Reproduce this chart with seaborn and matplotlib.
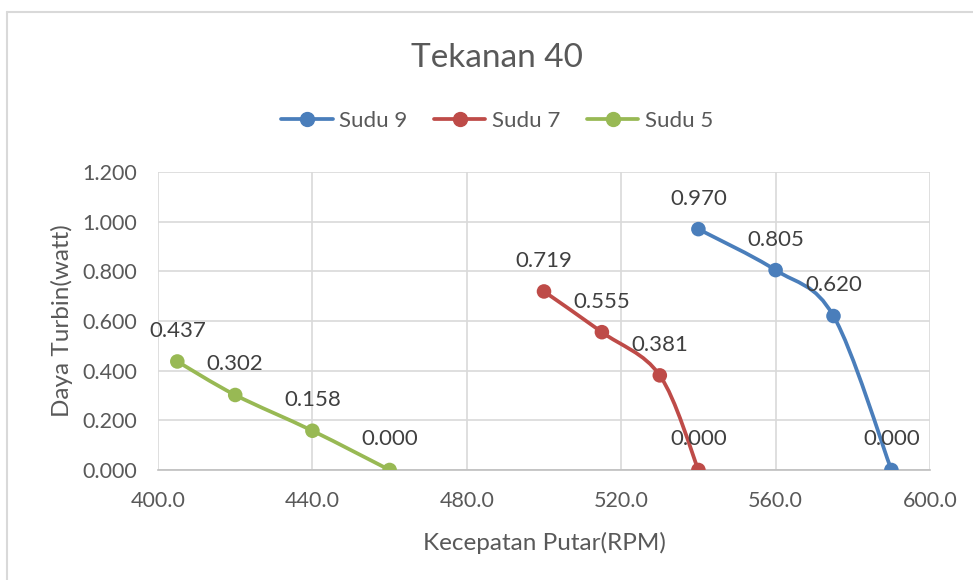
import numpy as np
import pandas as pd
import matplotlib
matplotlib.use('Agg')
import matplotlib.pyplot as plt
from matplotlib.path import Path
from matplotlib.patches import PathPatch
from matplotlib.lines import Line2D
import seaborn as sns

# data
series = ['Sudu 9', 'Sudu 7', 'Sudu 5']
rpm_9 = [540, 560, 575, 590]
daya_9 = [0.970, 0.805, 0.620, 0.000]
rpm_7 = [500, 515, 530, 540]
daya_7 = [0.719, 0.555, 0.381, 0.000]
rpm_5 = [405, 420, 440, 460]
daya_5 = [0.437, 0.302, 0.158, 0.000]
colors = ['#4A7EBB', '#BE4B48', '#98B954']

df = pd.concat([
    pd.DataFrame({'RPM': rpm_9, 'Daya': daya_9, 'Seri': 'Sudu 9'}),
    pd.DataFrame({'RPM': rpm_7, 'Daya': daya_7, 'Seri': 'Sudu 7'}),
    pd.DataFrame({'RPM': rpm_5, 'Daya': daya_5, 'Seri': 'Sudu 5'}),
])

sns.set_style('white')
plt.rcParams['font.family'] = ['Lato', 'DejaVu Sans']
grey = '#595959'

fig = plt.figure(figsize=(9.73, 5.8), dpi=100)
ax = fig.add_axes([0.1624, 0.1897, 0.7934, 0.5137])


def smooth_path(x, y):
    # Excel-like smoothed line: Catmull-Rom as cubic Bezier
    p = np.column_stack([x, y]).astype(float)
    ext = np.vstack([p[0], p, p[-1]])
    verts = [p[0]]
    codes = [Path.MOVETO]
    for i in range(len(p) - 1):
        p0, p1, p2, p3 = ext[i], ext[i + 1], ext[i + 2], ext[i + 3]
        c1 = p1 + (p2 - p0) / 6.0
        c2 = p2 - (p3 - p1) / 6.0
        verts += [c1, c2, p2]
        codes += [Path.CURVE4] * 3
    return Path(verts, codes)


for name, col in zip(series, colors):
    d = df[df.Seri == name]
    patch = PathPatch(smooth_path(d.RPM, d.Daya), facecolor='none',
                      edgecolor=col, lw=2.7, zorder=3, capstyle='round')
    ax.add_patch(patch)

sns.scatterplot(data=df, x='RPM', y='Daya', hue='Seri', palette=colors,
                s=110, edgecolor='none', legend=False, zorder=4, ax=ax)

for _, r in df.iterrows():
    ax.annotate(f'{r.Daya:.3f}', (r.RPM, r.Daya), xytext=(0, 22),
                textcoords='offset points', ha='center', va='center',
                fontsize=16, color='#404040', zorder=5)

ax.set_xlim(400, 600)
ax.set_ylim(0, 1.2)
ax.set_xticks(np.arange(400, 601, 40))
ax.set_yticks(np.arange(0, 1.21, 0.2))
ax.set_xticklabels([f'{v:.1f}' for v in np.arange(400, 601, 40)])
ax.set_yticklabels([f'{v:.3f}' for v in np.arange(0, 1.21, 0.2)])
ax.tick_params(axis='both', colors=grey, labelsize=15.5, length=0)
ax.tick_params(axis='y', pad=15)
ax.tick_params(axis='x', pad=15)
ax.grid(True, color='#D9D9D9', lw=1.2)
ax.set_axisbelow(True)
for s in ['top', 'right', 'left']:
    ax.spines[s].set_visible(False)
ax.spines['bottom'].set_color('#BFBFBF')
ax.spines['bottom'].set_linewidth(1.2)

ax.set_xlabel('Kecepatan Putar(RPM)', fontsize=17.5, color=grey)
ax.set_ylabel('Daya Turbin(watt)', fontsize=17.5, color=grey)
ax.xaxis.set_label_coords(0.5, -73 / 298, transform=ax.transAxes)
ax.yaxis.set_label_coords(-96 / 772, 0.5, transform=ax.transAxes)
ax.xaxis.label.set_va('center')
ax.yaxis.label.set_va('center')

fig.text(0.511, 0.9, 'Tekanan 40', ha='center', va='center',
         fontsize=24, color=grey)

handles = [Line2D([0], [0], color=c, lw=2.7, marker='o', markersize=10)
           for c in colors]
fig.legend(handles, series, loc='center', bbox_to_anchor=(0.511, 0.791),
           ncol=3, frameon=False, fontsize=16, handlelength=2.3,
           columnspacing=1.2, handletextpad=0.3, labelcolor=grey)

# chart border
fig.add_artist(Line2D([7 / 973, 7 / 973], [0, 1 - 12 / 580],
                      color='#D9D9D9', lw=1.5))
fig.add_artist(Line2D([7 / 973, 1], [1 - 12 / 580, 1 - 12 / 580],
                      color='#D9D9D9', lw=1.5))

fig.savefig('out.png', dpi=100, facecolor='white')
